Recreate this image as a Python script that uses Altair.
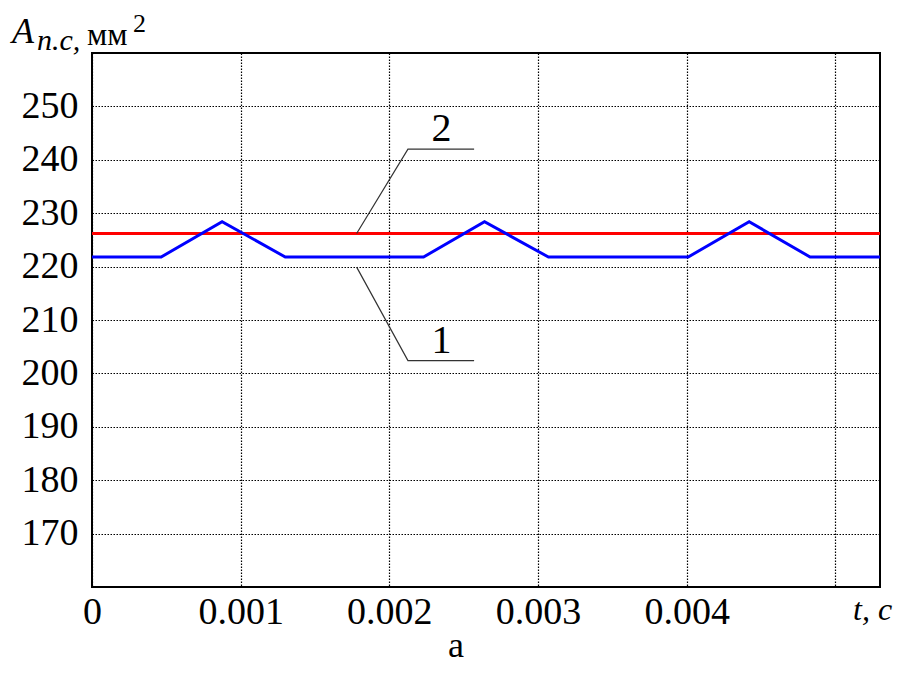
import altair as alt
import pandas as pd

# ---- data ----
t_blue = [0.0, 0.000465, 0.000875, 0.0013, 0.00223, 0.00264, 0.00307, 0.00401, 0.00442, 0.00483, 0.0053]
a_blue = [221.8, 221.8, 228.4, 221.8, 221.8, 228.4, 221.8, 221.8, 228.4, 221.8, 221.8]
t_red = [0.0, 0.0053]
a_red = [226.2, 226.2]

lead2_t = [0.00178, 0.002125, 0.00257]
lead2_a = [226.2, 242.0, 242.0]
lead1_t = [0.00178, 0.002125, 0.00257]
lead1_a = [219.9, 202.4, 202.4]
label_names = ["2", "1"]
label_t = [0.00235, 0.00235]
label_a = [245.7, 206.1]

y_ticks = [170, 180, 190, 200, 210, 220, 230, 240, 250]
x_ticks = [0.0, 0.001, 0.002, 0.003, 0.004, 0.005]
x_domain = [0.0, 0.0053]
y_domain = [160, 260]

W, H = 788, 534
FONT = "'Liberation Serif', 'Times New Roman', Times, serif"

xs = alt.Scale(domain=x_domain, nice=False, zero=False)
ys = alt.Scale(domain=y_domain, nice=False, zero=False)

x_axis = alt.Axis(
    values=x_ticks, grid=True, gridColor="black", gridDash=[1.5, 1.5], gridWidth=1.2,
    domain=False, ticks=False, labelFont=FONT, labelFontSize=38, labelColor="black",
    labelPadding=6, labelOverlap=False, labelFlush=False, title=None,
    labelExpr="datum.value > 0.0045 ? '' : (datum.value == 0 ? '0' : format(datum.value, '.3f'))",
)
y_axis = alt.Axis(
    values=y_ticks, grid=True, gridColor="black", gridDash=[1.5, 1.5], gridWidth=1.2,
    domain=False, ticks=False, labelFont=FONT, labelFontSize=38, labelColor="black",
    labelPadding=14, labelOverlap=False, labelFlush=False, title=None,
)

X = alt.X("t:Q", scale=xs, axis=x_axis)
Y = alt.Y("a:Q", scale=ys, axis=y_axis)

red_df = pd.DataFrame({"t": t_red, "a": a_red})
blue_df = pd.DataFrame({"t": t_blue, "a": a_blue})
l2_df = pd.DataFrame({"t": lead2_t, "a": lead2_a})
l1_df = pd.DataFrame({"t": lead1_t, "a": lead1_a})
lab_df = pd.DataFrame({"n": label_names, "t": label_t, "a": label_a})
one = pd.DataFrame({"k": [0]})

red = alt.Chart(red_df).mark_line(color="#ff0000", strokeWidth=3).encode(x=X, y=Y)
blue = alt.Chart(blue_df).mark_line(color="#0000ff", strokeWidth=3).encode(x=X, y=Y)
lead2 = alt.Chart(l2_df).mark_line(color="#333333", strokeWidth=1.2).encode(x=X, y=Y)
lead1 = alt.Chart(l1_df).mark_line(color="#333333", strokeWidth=1.2).encode(x=X, y=Y)
labels = alt.Chart(lab_df).mark_text(
    font=FONT, fontSize=40, color="black", align="center", baseline="middle"
).encode(x=X, y=Y, text="n:N")


def txt(s, x, y, size, style="normal", align="left"):
    return alt.Chart(one).mark_text(
        text=s, font=FONT, fontSize=size, fontStyle=style, align=align,
        baseline="alphabetic", color="black",
    ).encode(x=alt.value(x), y=alt.value(y))


texts = [
    txt("A", -80, -10, 36, "italic"),
    txt("n.c,", -55, -3, 30, "italic"),
    txt("мм", -5, -8, 32),
    txt("2", 41, -21, 26),
    txt("t, c", 761, 567, 32, "italic"),
    txt("a", 364, 604, 36, align="center"),
]

chart = alt.layer(red, blue, lead2, lead1, labels, *texts).properties(
    width=W, height=H,
    padding={"left": 84, "top": 45, "right": 20, "bottom": 78},
    autosize=alt.AutoSizeParams(type="none"),
).configure_view(stroke="black", strokeWidth=2)

chart.save("out.html", embed_options={"renderer": "svg", "actions": False})
